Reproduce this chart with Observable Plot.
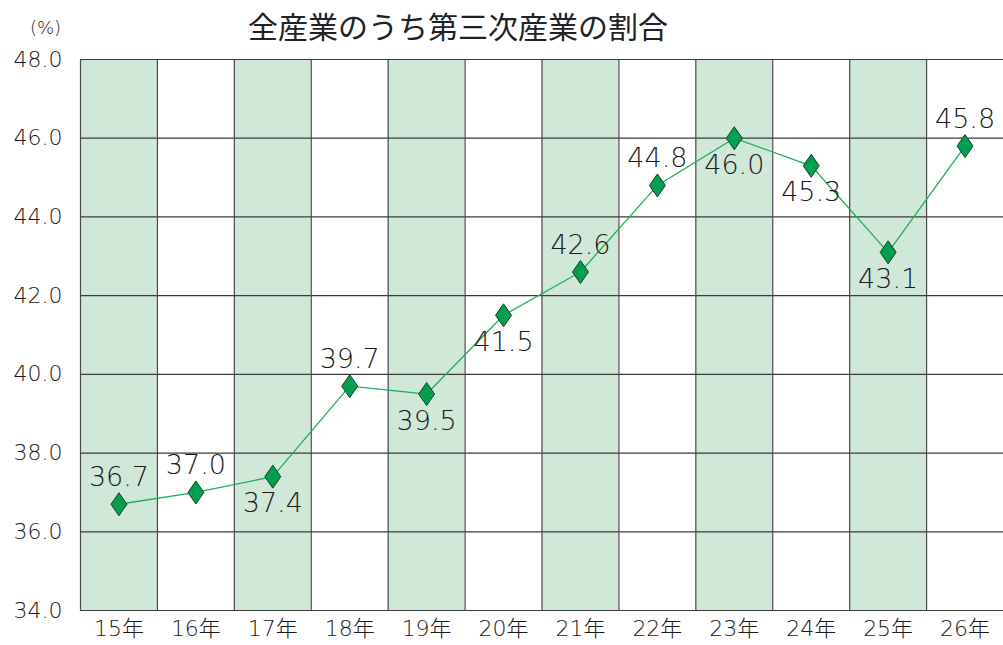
<!DOCTYPE html>
<html>
<head>
<meta charset="utf-8">
<script src="https://cdn.jsdelivr.net/npm/d3@7"></script>
<script src="https://cdn.jsdelivr.net/npm/@observablehq/plot@0.6"></script>
<style>
  html, body { margin: 0; padding: 0; background: #fff; }
  #chart svg { display: block; }
</style>
</head>
<body>
<div id="chart"></div>
<script>
const title = "全産業のうち第三次産業の割合";
const unitLabel = "(%)";
const years = ["15年","16年","17年","18年","19年","20年","21年","22年","23年","24年","25年","26年"];
const shares = [36.7, 37.0, 37.4, 39.7, 39.5, 41.5, 42.6, 44.8, 46.0, 45.3, 43.1, 45.8];
const labelSide = ["above","above","below","above","below","below","above","above","below","below","below","above"];
const yTicks = [34, 36, 38, 40, 42, 44, 46, 48];

const data = years.map((y, i) => ({year: y, value: shares[i], side: labelSide[i], shaded: i % 2 === 0}));

const diamond = {
  draw(ctx, size) {
    const w = 8, h = 11.5;
    ctx.moveTo(0, -h); ctx.lineTo(w, 0); ctx.lineTo(0, h); ctx.lineTo(-w, 0); ctx.closePath();
  }
};

const cjk = "'Noto Sans CJK JP', 'Noto Sans', sans-serif";
const numFont = "'DejaVu Sans', 'Noto Sans CJK JP', sans-serif";
const bw = (1003 - 80) / years.length;

const chart = Plot.plot({
  width: 1003,
  height: 645,
  marginLeft: 80,
  marginRight: 0,
  marginTop: 59,
  marginBottom: 35,
  style: {fontFamily: numFont, color: "#222", background: "#fff", fontWeight: 200},
  x: {type: "band", domain: years, padding: 0, round: false, label: null},
  y: {domain: [34, 48], label: null},
  marks: [
    Plot.barY(data, {x: "year", y1: 34, y2: 48, fill: d => d.shaded ? "#d0e8d8" : "#ffffff", insetLeft: 0, insetRight: 0}),
    Plot.ruleY(yTicks, {stroke: "#3a3a3a", strokeWidth: 1.2}),
    Plot.tickX(years, {x: d => d, y1: 34, y2: 48, dx: -bw / 2, stroke: "#4a4a4a", strokeWidth: 1.2}),
    Plot.axisY({ticks: yTicks, tickFormat: d3.format(".1f"), tickSize: 0, tickPadding: 18, fontSize: 22, fill: "#1a1a1a", label: null}),
    Plot.axisX({tickSize: 0, tickPadding: 10, fontSize: 22, fill: "#1a1a1a", label: null}),
    Plot.line(data, {x: "year", y: "value", stroke: "#1fae5b", strokeWidth: 1.3}),
    Plot.dot(data, {x: "year", y: "value", symbol: diamond, r: 5, fill: "#00a04e", stroke: "#1d3b2a", strokeWidth: 1}),
    Plot.text(data.filter(d => d.side === "above"), {x: "year", y: "value", text: d => d3.format(".1f")(d.value), dy: -27, fontSize: 27, fill: "#1a1a1a"}),
    Plot.text(data.filter(d => d.side === "below"), {x: "year", y: "value", text: d => d3.format(".1f")(d.value), dy: 27, fontSize: 27, fill: "#1a1a1a"}),
    Plot.text([title], {frameAnchor: "top", lineAnchor: "middle", dx: -84, dy: -31, fontSize: 30, fontFamily: cjk, fontWeight: 400, fill: "#222"}),
    Plot.text([unitLabel], {frameAnchor: "top-left", lineAnchor: "middle", dx: -35, dy: -31, fontSize: 18, fill: "#1a1a1a", textAnchor: "middle"})
  ]
});
document.getElementById("chart").appendChild(chart);
</script>
</body>
</html>
